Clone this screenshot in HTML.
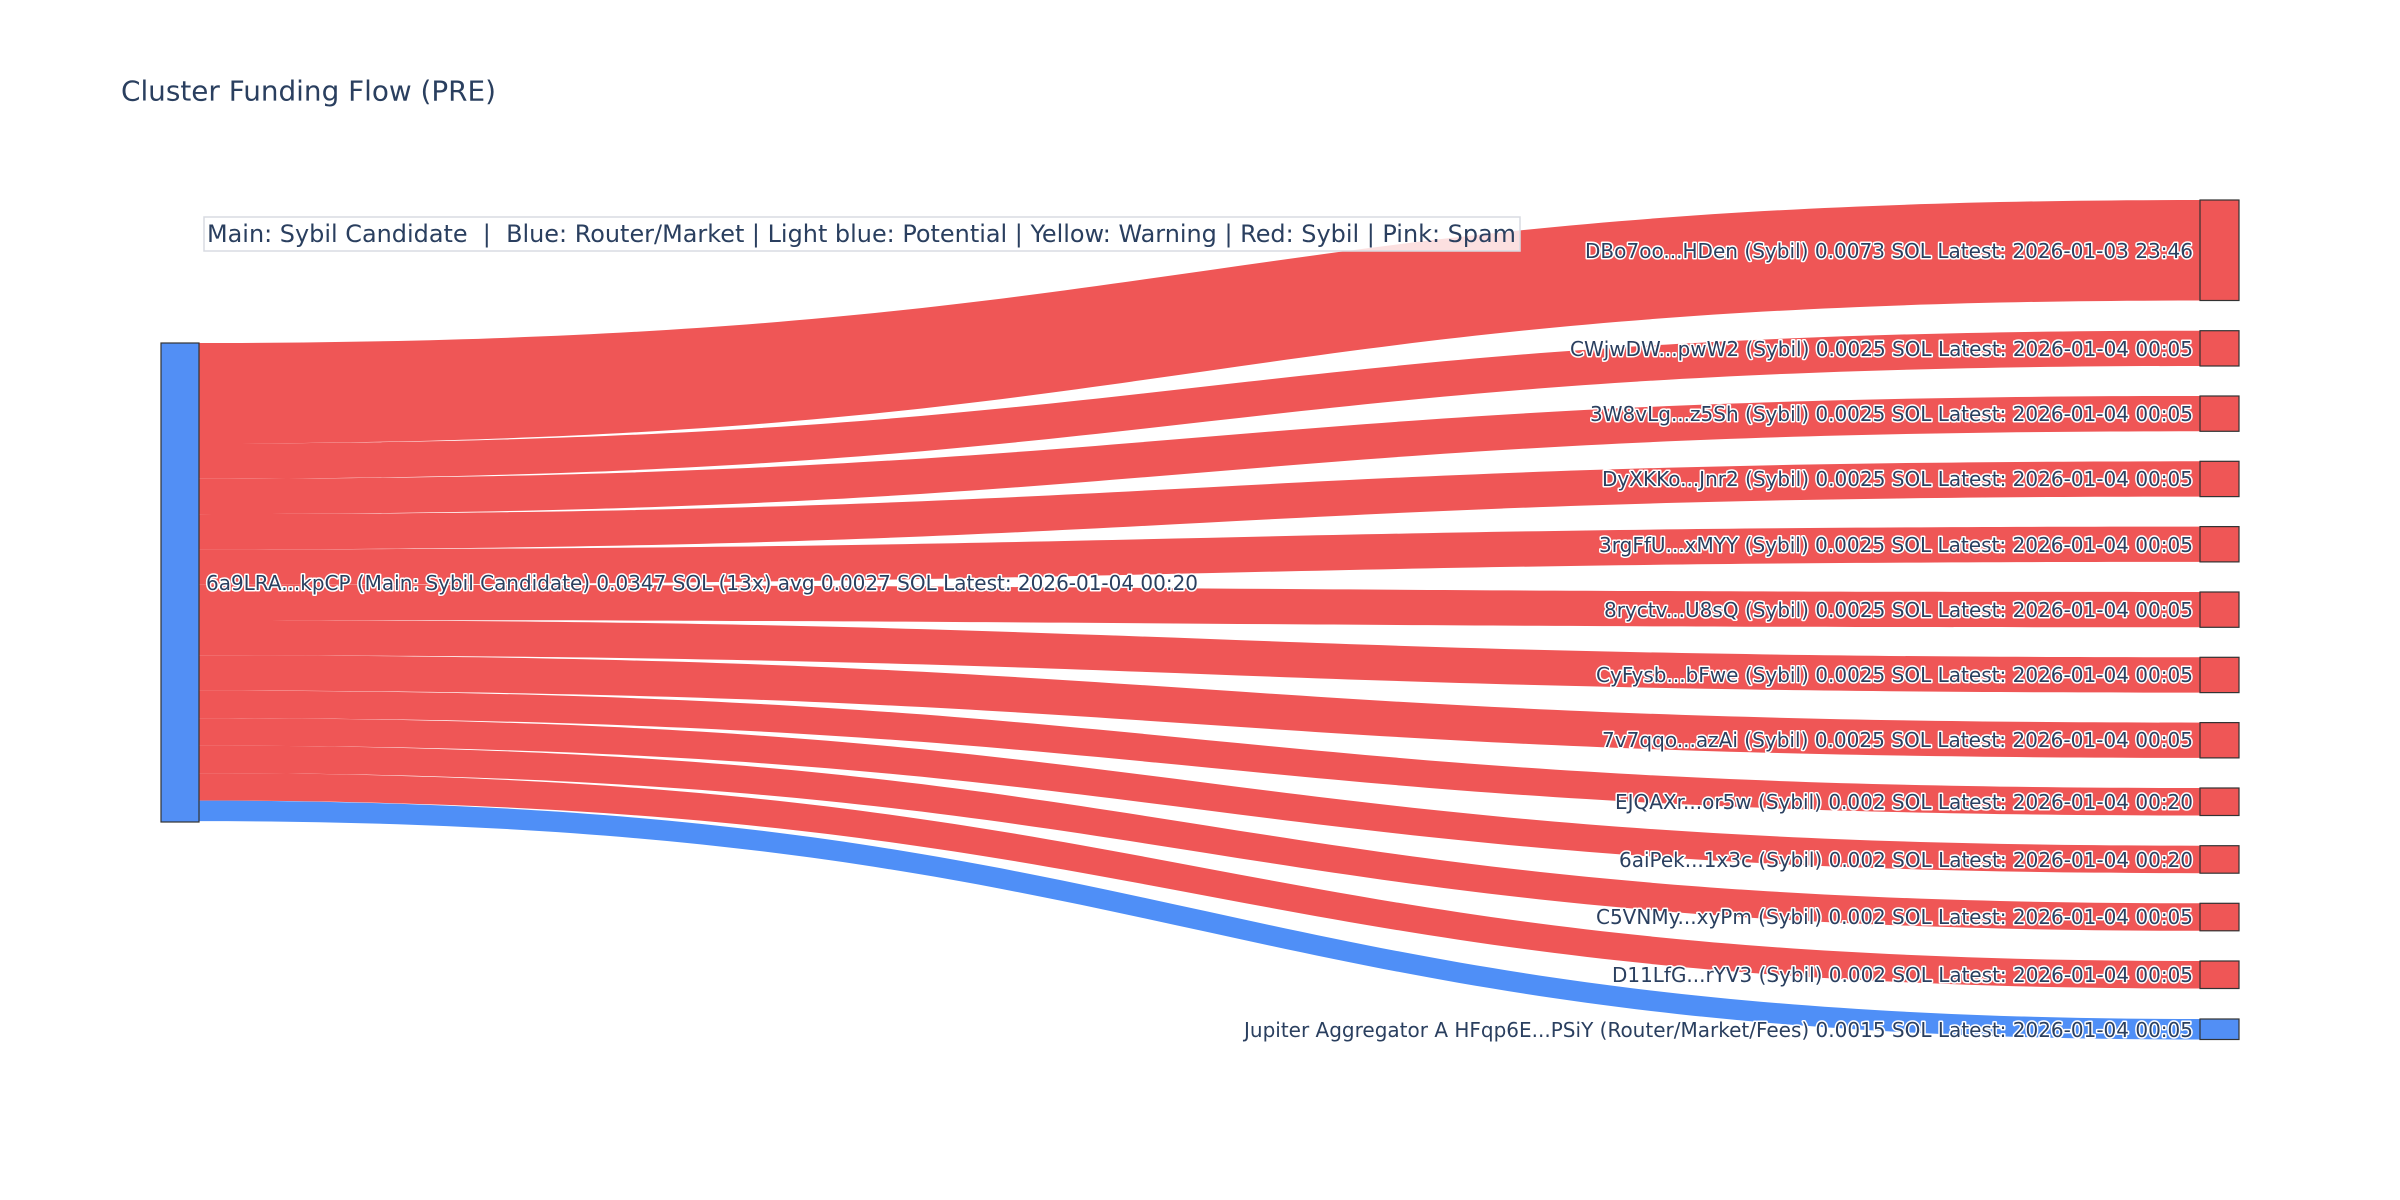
<!DOCTYPE html>
<html><head><meta charset="utf-8"><style>
html,body{margin:0;padding:0;background:#fff;}
svg{display:block;}
text{font-family:"DejaVu Sans","Liberation Sans",sans-serif;fill:#2a3f5f;}
.lb{font-size:20px;stroke:#fff;stroke-width:3px;paint-order:stroke;stroke-linejoin:round;}
</style></head><body>
<svg width="2400" height="1200" viewBox="0 0 2400 1200" xmlns="http://www.w3.org/2000/svg">
<rect width="2400" height="1200" fill="#fff"/>
<text x="121" y="91" font-size="28" dominant-baseline="central" textLength="375" lengthAdjust="spacingAndGlyphs">Cluster Funding Flow (PRE)</text>
<g fill="#ef5656">
<path d="M199,343 C1199.5,343 1199.5,200 2200,200 L2200,300.5 C1199.5,300.5 1199.5,443.5 199,443.5 Z"/>
<path d="M199,443.5 C1199.5,443.5 1199.5,330.7 2200,330.7 L2200,366 C1199.5,366 1199.5,478.8 199,478.8 Z"/>
<path d="M199,478.8 C1199.5,478.8 1199.5,396 2200,396 L2200,431.3 C1199.5,431.3 1199.5,514.1 199,514.1 Z"/>
<path d="M199,514.1 C1199.5,514.1 1199.5,461.3 2200,461.3 L2200,496.6 C1199.5,496.6 1199.5,549.4 199,549.4 Z"/>
<path d="M199,549.4 C1199.5,549.4 1199.5,526.6 2200,526.6 L2200,561.9 C1199.5,561.9 1199.5,584.7 199,584.7 Z"/>
<path d="M199,584.7 C1199.5,584.7 1199.5,592 2200,592 L2200,627.3 C1199.5,627.3 1199.5,620 199,620 Z"/>
<path d="M199,620 C1199.5,620 1199.5,657.3 2200,657.3 L2200,692.6 C1199.5,692.6 1199.5,655.3 199,655.3 Z"/>
<path d="M199,655.3 C1199.5,655.3 1199.5,722.6 2200,722.6 L2200,757.9 C1199.5,757.9 1199.5,690.6 199,690.6 Z"/>
<path d="M199,690.6 C1199.5,690.6 1199.5,788 2200,788 L2200,815.5 C1199.5,815.5 1199.5,718.1 199,718.1 Z"/>
<path d="M199,718.1 C1199.5,718.1 1199.5,845.7 2200,845.7 L2200,873.2 C1199.5,873.2 1199.5,745.6 199,745.6 Z"/>
<path d="M199,745.6 C1199.5,745.6 1199.5,903.3 2200,903.3 L2200,930.8 C1199.5,930.8 1199.5,773.1 199,773.1 Z"/>
<path d="M199,773.1 C1199.5,773.1 1199.5,961 2200,961 L2200,988.5 C1199.5,988.5 1199.5,800.6 199,800.6 Z"/>
</g>
<path fill="#4f8ff7" d="M199,800.6 C1199.5,800.6 1199.5,1019 2200,1019 L2200,1039.5 C1199.5,1039.5 1199.5,821.1 199,821.1 Z"/>
<g stroke="#333" stroke-width="1.2">
<rect x="161" y="343" width="38" height="479" fill="#528ff5"/>
<g fill="#ef5656">
<rect x="2200" y="200" width="39" height="100.5"/>
<rect x="2200" y="330.7" width="39" height="35.3"/>
<rect x="2200" y="396" width="39" height="35.3"/>
<rect x="2200" y="461.3" width="39" height="35.3"/>
<rect x="2200" y="526.6" width="39" height="35.3"/>
<rect x="2200" y="592" width="39" height="35.3"/>
<rect x="2200" y="657.3" width="39" height="35.3"/>
<rect x="2200" y="722.6" width="39" height="35.3"/>
<rect x="2200" y="788" width="39" height="27.5"/>
<rect x="2200" y="845.7" width="39" height="27.5"/>
<rect x="2200" y="903.3" width="39" height="27.5"/>
<rect x="2200" y="961" width="39" height="27.5"/>
</g>
<rect x="2200" y="1019" width="39" height="20.5" fill="#528ff5"/>
</g>
<rect x="204" y="217" width="1316" height="34" fill="#fff" fill-opacity="0.82" stroke="#d8dbe2" stroke-width="1.5"/>
<text x="207" y="234" font-size="24" dominant-baseline="central" textLength="1309" lengthAdjust="spacingAndGlyphs">Main: Sybil Candidate&#160; |&#160; Blue: Router/Market | Light blue: Potential | Yellow: Warning | Red: Sybil | Pink: Spam</text>
<text class="lb" x="206" y="583" dominant-baseline="central" textLength="992" lengthAdjust="spacingAndGlyphs">6a9LRA...kpCP (Main: Sybil Candidate) 0.0347 SOL (13x) avg 0.0027 SOL Latest: 2026-01-04 00:20</text>
<g text-anchor="end">
<text class="lb" x="2193" y="251" dominant-baseline="central" textLength="608" lengthAdjust="spacingAndGlyphs">DBo7oo...HDen (Sybil) 0.0073 SOL Latest: 2026-01-03 23:46</text>
<text class="lb" x="2193" y="349" dominant-baseline="central" textLength="623" lengthAdjust="spacingAndGlyphs">CWjwDW...pwW2 (Sybil) 0.0025 SOL Latest: 2026-01-04 00:05</text>
<text class="lb" x="2193" y="414" dominant-baseline="central" textLength="603" lengthAdjust="spacingAndGlyphs">3W8vLg...z5Sh (Sybil) 0.0025 SOL Latest: 2026-01-04 00:05</text>
<text class="lb" x="2193" y="479" dominant-baseline="central" textLength="591" lengthAdjust="spacingAndGlyphs">DyXKKo...Jnr2 (Sybil) 0.0025 SOL Latest: 2026-01-04 00:05</text>
<text class="lb" x="2193" y="545" dominant-baseline="central" textLength="594" lengthAdjust="spacingAndGlyphs">3rgFfU...xMYY (Sybil) 0.0025 SOL Latest: 2026-01-04 00:05</text>
<text class="lb" x="2193" y="610" dominant-baseline="central" textLength="589" lengthAdjust="spacingAndGlyphs">8ryctv...U8sQ (Sybil) 0.0025 SOL Latest: 2026-01-04 00:05</text>
<text class="lb" x="2193" y="675" dominant-baseline="central" textLength="597" lengthAdjust="spacingAndGlyphs">CyFysb...bFwe (Sybil) 0.0025 SOL Latest: 2026-01-04 00:05</text>
<text class="lb" x="2193" y="740" dominant-baseline="central" textLength="591" lengthAdjust="spacingAndGlyphs">7v7qqo...azAi (Sybil) 0.0025 SOL Latest: 2026-01-04 00:05</text>
<text class="lb" x="2193" y="802" dominant-baseline="central" textLength="578" lengthAdjust="spacingAndGlyphs">EJQAXr...or5w (Sybil) 0.002 SOL Latest: 2026-01-04 00:20</text>
<text class="lb" x="2193" y="860" dominant-baseline="central" textLength="574" lengthAdjust="spacingAndGlyphs">6aiPek...1x3c (Sybil) 0.002 SOL Latest: 2026-01-04 00:20</text>
<text class="lb" x="2193" y="917" dominant-baseline="central" textLength="597" lengthAdjust="spacingAndGlyphs">C5VNMy...xyPm (Sybil) 0.002 SOL Latest: 2026-01-04 00:05</text>
<text class="lb" x="2193" y="975" dominant-baseline="central" textLength="581" lengthAdjust="spacingAndGlyphs">D11LfG...rYV3 (Sybil) 0.002 SOL Latest: 2026-01-04 00:05</text>
<text class="lb" x="2193" y="1030" dominant-baseline="central" textLength="949" lengthAdjust="spacingAndGlyphs">Jupiter Aggregator A HFqp6E...PSiY (Router/Market/Fees) 0.0015 SOL Latest: 2026-01-04 00:05</text>
</g>
</svg>
</body></html>
